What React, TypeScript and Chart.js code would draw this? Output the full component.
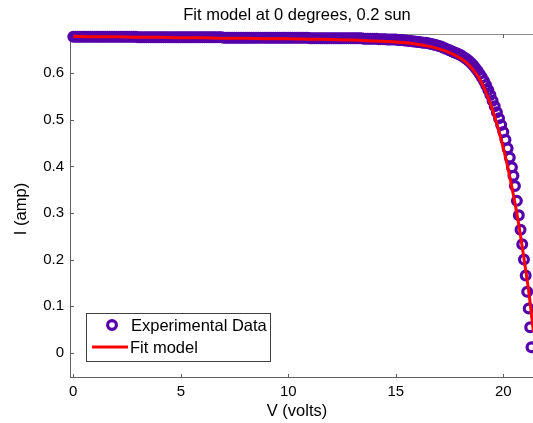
import React, { useEffect, useRef } from "react";
import { Chart, registerables } from "chart.js";

Chart.register(...registerables);

const TITLE = "Fit model at 0 degrees, 0.2 sun";
const X_LABEL = "V (volts)";
const Y_LABEL = "I (amp)";
const LEGEND_LABELS = ["Experimental Data", "Fit model"];

const X_MIN = -0.153;
const X_MAX = 21.38;
const Y_MIN = -0.054;
const Y_MAX = 0.684;
const X_STEP = 5;
const Y_STEP = 0.1;

const expV = [
  0.0, 0.1, 0.2, 0.3, 0.4, 0.5, 0.6, 0.7, 0.8, 0.9,
  1.0, 1.1, 1.2, 1.3, 1.4, 1.5, 1.6, 1.7, 1.8, 1.9,
  2.0, 2.1, 2.2, 2.3, 2.4, 2.5, 2.6, 2.7, 2.8, 2.9,
  3.0, 3.1, 3.2, 3.3, 3.4, 3.5, 3.6, 3.7, 3.8, 3.9,
  4.0, 4.1, 4.2, 4.3, 4.4, 4.5, 4.6, 4.7, 4.8, 4.9,
  5.0, 5.1, 5.2, 5.3, 5.4, 5.5, 5.6, 5.7, 5.8, 5.9,
  6.0, 6.1, 6.2, 6.3, 6.4, 6.5, 6.6, 6.7, 6.8, 6.9,
  7.0, 7.1, 7.2, 7.3, 7.4, 7.5, 7.6, 7.7, 7.8, 7.9,
  8.0, 8.1, 8.2, 8.3, 8.4, 8.5, 8.6, 8.7, 8.8, 8.9,
  9.0, 9.1, 9.2, 9.3, 9.4, 9.5, 9.6, 9.7, 9.8, 9.9,
  10.0, 10.1, 10.2, 10.3, 10.4, 10.5, 10.6, 10.7, 10.8, 10.9,
  11.0, 11.1, 11.2, 11.3, 11.4, 11.5, 11.6, 11.7, 11.8, 11.9,
  12.0, 12.1, 12.2, 12.3, 12.4, 12.5, 12.6, 12.7, 12.8, 12.9,
  13.0, 13.1, 13.2, 13.3, 13.4, 13.5, 13.6, 13.7, 13.8, 13.9,
  14.0, 14.1, 14.2, 14.3, 14.4, 14.5, 14.6, 14.7, 14.8, 14.9,
  15.0, 15.1, 15.2, 15.3, 15.4, 15.5, 15.6, 15.7, 15.8, 15.9,
  16.0, 16.1, 16.2, 16.3, 16.4, 16.5, 16.6, 16.7, 16.8, 16.9,
  17.0, 17.1, 17.2, 17.3, 17.4, 17.5, 17.6, 17.7, 17.8, 17.9,
  18.0, 18.1, 18.2, 18.3, 18.4, 18.5, 18.6, 18.7, 18.8, 18.9,
  19.0, 19.1, 19.2, 19.3, 19.4, 19.5, 19.6, 19.7, 19.8, 19.9,
  20.0, 20.1, 20.2, 20.3, 20.4, 20.47, 20.54, 20.63, 20.72, 20.8,
  20.88, 20.96, 21.04, 21.11, 21.18, 21.25, 21.31,
];
const expI = [
  0.678, 0.678, 0.678, 0.678, 0.678, 0.678, 0.678, 0.678, 0.678, 0.678,
  0.678, 0.678, 0.678, 0.678, 0.678, 0.678, 0.678, 0.678, 0.678, 0.678,
  0.678, 0.678, 0.678, 0.678, 0.678, 0.678, 0.678, 0.678, 0.678, 0.678,
  0.677, 0.677, 0.677, 0.677, 0.677, 0.677, 0.677, 0.677, 0.677, 0.677,
  0.677, 0.677, 0.677, 0.677, 0.677, 0.677, 0.677, 0.677, 0.677, 0.677,
  0.677, 0.677, 0.677, 0.677, 0.677, 0.677, 0.677, 0.677, 0.677, 0.677,
  0.677, 0.677, 0.677, 0.677, 0.677, 0.677, 0.677, 0.677, 0.677, 0.677,
  0.676, 0.676, 0.676, 0.676, 0.676, 0.676, 0.676, 0.676, 0.676, 0.676,
  0.676, 0.676, 0.676, 0.676, 0.676, 0.676, 0.676, 0.676, 0.676, 0.676,
  0.676, 0.676, 0.676, 0.676, 0.676, 0.676, 0.676, 0.676, 0.676, 0.676,
  0.676, 0.676, 0.676, 0.676, 0.676, 0.676, 0.676, 0.676, 0.676, 0.676,
  0.675, 0.675, 0.675, 0.675, 0.675, 0.675, 0.675, 0.675, 0.675, 0.675,
  0.675, 0.675, 0.675, 0.675, 0.675, 0.675, 0.675, 0.675, 0.675, 0.675,
  0.675, 0.675, 0.675, 0.675, 0.675, 0.674, 0.674, 0.674, 0.674, 0.674,
  0.674, 0.674, 0.673, 0.673, 0.673, 0.673, 0.672, 0.672, 0.672, 0.672,
  0.672, 0.671, 0.671, 0.671, 0.670, 0.670, 0.669, 0.669, 0.668, 0.668,
  0.667, 0.667, 0.666, 0.665, 0.665, 0.664, 0.663, 0.662, 0.661, 0.660,
  0.658, 0.657, 0.655, 0.653, 0.651, 0.649, 0.647, 0.645, 0.643, 0.641,
  0.639, 0.636, 0.633, 0.630, 0.626, 0.622, 0.617, 0.611, 0.605, 0.598,
  0.591, 0.583, 0.574, 0.564, 0.553, 0.541, 0.529, 0.516, 0.503, 0.489,
  0.474, 0.457, 0.439, 0.419, 0.398, 0.380, 0.358, 0.326, 0.295, 0.264,
  0.233, 0.200, 0.166, 0.131, 0.095, 0.055, 0.012,
];

// Fit model curve (volts, amps)
const fitV = [
  0, 1, 2, 3, 4, 5, 6, 7, 8, 9, 10, 11, 12, 13, 14, 15, 15.5, 16, 16.5, 17,
  17.5, 18, 18.3, 18.6, 18.9, 19.2, 19.5, 19.8, 20.1, 20.4, 20.7, 21.0, 21.2, 21.4, 21.5,
];
const fitI = [
  0.679, 0.678, 0.678, 0.677, 0.677, 0.676, 0.676, 0.675, 0.675, 0.674, 0.674, 0.673,
  0.672, 0.671, 0.669, 0.667, 0.665, 0.662, 0.658, 0.652, 0.644, 0.632, 0.622, 0.607,
  0.587, 0.558, 0.521, 0.474, 0.420, 0.355, 0.280, 0.190, 0.125, 0.045, 0.005,
];

const PURPLE = "#5500AA";
const RED = "#FF0000";
const FONT = "'Liberation Sans', Arial, Helvetica, sans-serif";

const overlay = {
  id: "matlabDecor",
  beforeDatasetsDraw(chart: any) {
    const { ctx, chartArea, scales } = chart;
    const { left, right, top, bottom } = chartArea;
    ctx.save();
    ctx.lineWidth = 1;
    ctx.strokeStyle = "#8c8c8c";
    ctx.beginPath();
    ctx.moveTo(left, Math.round(top) + 0.5);
    ctx.lineTo(right, Math.round(top) + 0.5);
    ctx.stroke();
    ctx.strokeStyle = "#606060";
    ctx.beginPath();
    ctx.moveTo(Math.round(left) + 0.5, top);
    ctx.lineTo(Math.round(left) + 0.5, bottom);
    ctx.moveTo(left, Math.round(bottom) - 0.5);
    ctx.lineTo(right, Math.round(bottom) - 0.5);
    ctx.stroke();
    const tl = 4;
    ctx.beginPath();
    for (const t of scales.x.ticks) {
      const px = Math.round(scales.x.getPixelForValue(t.value)) + 0.5;
      ctx.moveTo(px, bottom);
      ctx.lineTo(px, bottom - tl);
      ctx.moveTo(px, top);
      ctx.lineTo(px, top + tl);
    }
    for (const t of scales.y.ticks) {
      const py = Math.round(scales.y.getPixelForValue(t.value)) + 0.5;
      ctx.moveTo(left, py);
      ctx.lineTo(left + tl, py);
    }
    ctx.stroke();
    ctx.restore();
  },
  afterDraw(chart: any) {
    const { ctx, chartArea } = chart;
    const { top, bottom } = chartArea;
    ctx.save();
    ctx.fillStyle = "#000";
    ctx.font = `16.5px ${FONT}`;
    ctx.textAlign = "center";
    ctx.textBaseline = "middle";
    ctx.fillText(TITLE, 297, 15);
    ctx.fillText(X_LABEL, 297, 411);
    ctx.save();
    ctx.translate(21, (top + bottom) / 2 + 3);
    ctx.rotate(-Math.PI / 2);
    ctx.fillText(Y_LABEL, 0, 0);
    ctx.restore();

    const bx = 86, by = 313, bw = 184, bh = 48;
    ctx.fillStyle = "#fff";
    ctx.fillRect(bx, by, bw, bh);
    ctx.strokeStyle = "#404040";
    ctx.lineWidth = 1;
    ctx.strokeRect(bx + 0.5, by + 0.5, bw, bh);
    ctx.strokeStyle = PURPLE;
    ctx.lineWidth = 3.2;
    ctx.beginPath();
    ctx.arc(112, 325, 4.4, 0, Math.PI * 2);
    ctx.stroke();
    ctx.strokeStyle = RED;
    ctx.lineWidth = 3;
    ctx.beginPath();
    ctx.moveTo(92, 347);
    ctx.lineTo(128, 347);
    ctx.stroke();
    ctx.fillStyle = "#000";
    ctx.font = `16.5px ${FONT}`;
    ctx.textAlign = "left";
    ctx.textBaseline = "middle";
    ctx.fillText(LEGEND_LABELS[0], 131, 326);
    ctx.fillText(LEGEND_LABELS[1], 130, 348);
    ctx.restore();
  },
};

export default function App() {
  const ref = useRef<HTMLCanvasElement | null>(null);
  useEffect(() => {
    if (!ref.current) return;
    const expData = expV.map((v, i) => ({ x: v, y: expI[i] }));
    const fitData = fitV.map((v, i) => ({ x: v, y: fitI[i] }));
    const tickFont = { family: FONT, size: 15 };
    const chart = new Chart(ref.current, {
      type: "scatter",
      data: {
        datasets: [
          {
            label: LEGEND_LABELS[1],
            data: fitData,
            showLine: true,
            borderColor: RED,
            borderWidth: 3,
            pointRadius: 0,
            cubicInterpolationMode: "monotone",
            fill: false,
            order: 0,
          } as any,
          {
            label: LEGEND_LABELS[0],
            data: expData,
            showLine: false,
            pointStyle: "circle",
            pointRadius: 4.4,
            pointBorderWidth: 3.2,
            pointBackgroundColor: "rgba(0,0,0,0)",
            pointBorderColor: PURPLE,
            borderColor: PURPLE,
            clip: false,
            order: 1,
          } as any,
        ],
      },
      options: {
        responsive: false,
        animation: false,
        devicePixelRatio: 1,
        layout: { autoPadding: false, padding: { top: 34, left: 0, right: 0, bottom: 0 } },
        plugins: {
          legend: { display: false },
          title: { display: false },
          tooltip: { enabled: false },
        },
        scales: {
          x: {
            type: "linear",
            min: X_MIN,
            max: X_MAX,
            grid: { display: false, drawTicks: false },
            border: { display: false },
            ticks: {
              stepSize: X_STEP,
              includeBounds: false,
              padding: 5,
              color: "#000",
              font: tickFont,
              maxRotation: 0,
              autoSkip: false,
            },
            afterFit: (s: any) => {
              s.height = 45;
              s.paddingLeft = 0;
              s.paddingRight = 0;
            },
          },
          y: {
            type: "linear",
            min: Y_MIN,
            max: Y_MAX,
            grid: { display: false, drawTicks: false },
            border: { display: false },
            ticks: {
              stepSize: Y_STEP,
              includeBounds: false,
              padding: 6,
              color: "#000",
              font: tickFont,
              autoSkip: false,
              callback: (v: any) => String(Math.round(Number(v) * 10) / 10),
            },
            afterFit: (s: any) => {
              s.width = 70;
              s.paddingTop = 0;
              s.paddingBottom = 0;
            },
          },
        },
      },
      plugins: [overlay],
    } as any);
    return () => chart.destroy();
  }, []);
  return (
    <div style={{ position: "fixed", left: 0, top: 0, width: 533, height: 423, background: "#fff", overflow: "hidden" }}>
      <canvas ref={ref} width={533} height={423} style={{ display: "block" }} />
    </div>
  );
}
